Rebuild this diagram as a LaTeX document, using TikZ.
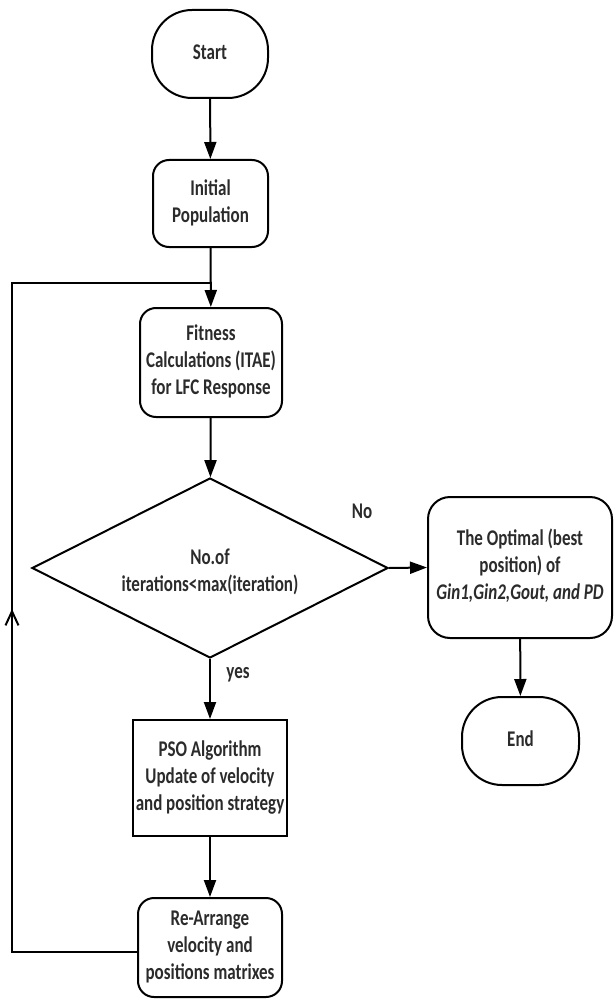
\documentclass[tikz,border=0pt]{standalone}
\usepackage{fontspec}
\setmainfont{Carlito}
\usetikzlibrary{arrows.meta,shapes.geometric}
\definecolor{txtgray}{HTML}{2B2B2B}
\newcommand\tx[1]{\scalebox{1}[1.32]{\fontsize{17}{20.5}\selectfont\bfseries\begin{tabular}{@{}c@{}}#1\end{tabular}}}
\tikzset{
  base/.style={draw=black, line width=2pt, text=txtgray, inner sep=0pt, align=center},
  term/.style={base, rounded corners=40pt, minimum width=116pt, minimum height=88pt},
  proc/.style={base, rounded corners=16pt},
  plain/.style={base},
  lbl/.style={text=txtgray, inner sep=0pt},
  flow/.style={line width=2pt, -{Triangle[length=17pt,width=12pt]}},
  wire/.style={line width=2pt}
}
\begin{document}
\begin{tikzpicture}[x=1pt,y=-1pt]
\useasboundingbox (0,0) rectangle (613,1003);
\node[term] (start) at (210,54) {\tx{Start}};
\node[proc, minimum width=115pt, minimum height=87pt] (init) at (210.5,203.5) {\tx{Initial\\Population}};
\node[proc, minimum width=142pt, minimum height=109pt] (fit) at (211,362.5) {\tx{Fitness\\Calculations (ITAE)\\for LFC Response}};
\node[base, diamond, minimum width=356pt, minimum height=180pt] (dec) at (210,568) {};
\node[lbl] (dectxt) at (210,573) {\tx{No.of\\iterations<max(iteration)}};
\node[proc, rounded corners=22pt, minimum width=184pt, minimum height=141pt] (opt) at (520,567.5) {\tx{The Optimal (best\\position) of\\\textit{Gin1,Gin2,Gout, and PD}}};
\node[term, minimum width=117pt] (end) at (520.5,741) {\tx{End}};
\node[plain, minimum width=154pt, minimum height=116pt] (pso) at (210,778) {\tx{PSO Algorithm\\Update of velocity\\and position strategy}};
\node[proc, minimum width=144pt, minimum height=99pt] (rearr) at (210,947.5) {\tx{Re-Arrange\\velocity and\\positions matrixes}};
\node[lbl] (nolbl) at (362,513) {\tx{No}};
\node[lbl] (yeslbl) at (238,673) {\tx{yes}};
\coordinate (cbl) at (12,952);
\coordinate (ctl) at (12,283);
\coordinate (j) at (fit.north |- ctl);
\coordinate (mk1) at (12,640);
\coordinate (mk2) at (12,609);
\draw[flow] (start) -- (init);
\draw[flow] (init) -- (fit);
\draw[flow] (fit) -- (dec);
\draw[flow] (dec.east) -- (opt.west);
\draw[flow] (opt) -- (end);
\draw[flow] (dec.south) -- (pso.north);
\draw[flow] (pso) -- (rearr);
\draw[wire] (rearr.west |- cbl) -- (cbl) -- (ctl) -- (j);
\draw[wire, -{Straight Barb[length=14pt,width=13pt]}] (mk1) -- (mk2);
\end{tikzpicture}
\end{document}
